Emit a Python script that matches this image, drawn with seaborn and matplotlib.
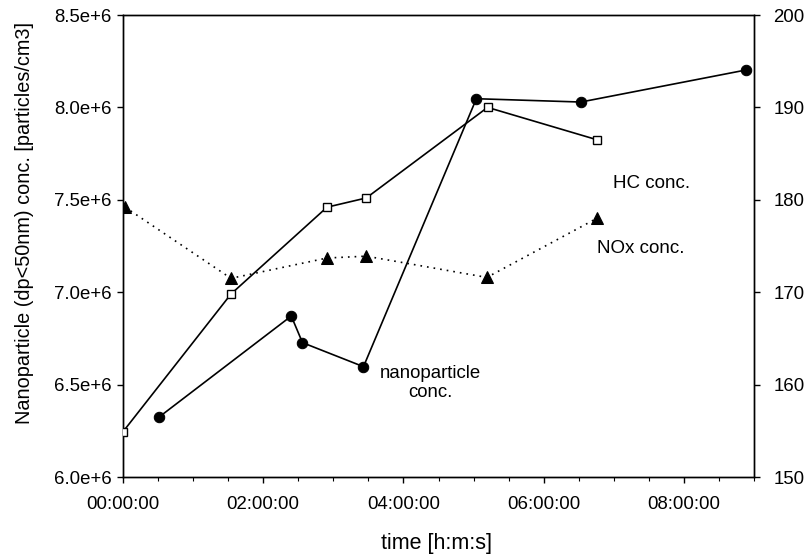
import numpy as np
import pandas as pd
import seaborn as sns
import matplotlib
matplotlib.use("Agg")
import matplotlib.pyplot as plt
from matplotlib.ticker import FuncFormatter, MultipleLocator

# time in hours
nano_time = [0.52, 2.40, 2.56, 3.43, 5.04, 6.53, 8.88]
nano_conc = [6.326e6, 6.871e6, 6.727e6, 6.597e6, 8.047e6, 8.029e6, 8.202e6]

hc_time = [0.0, 1.54, 2.91, 3.47, 5.20, 6.76]
hc_conc = [154.9, 169.8, 179.2, 180.2, 190.0, 186.5]

nox_time = [0.03, 1.54, 2.91, 3.47, 5.19, 6.76]
nox_conc = [179.2, 171.5, 173.7, 173.9, 171.6, 178.0]

left_ticks = [6.0e6, 6.5e6, 7.0e6, 7.5e6, 8.0e6, 8.5e6]
right_ticks = [150, 160, 170, 180, 190, 200]

sns.set_style("ticks")
plt.rcParams['font.family'] = ['Liberation Sans', 'DejaVu Sans']
plt.rcParams['font.size'] = 12
plt.rcParams['text.color'] = 'black'
plt.rcParams['axes.labelcolor'] = 'black'
plt.rcParams['xtick.color'] = 'black'
plt.rcParams['ytick.color'] = 'black'

nano_df = pd.DataFrame({'t': nano_time, 'v': nano_conc})
hc_df = pd.DataFrame({'t': hc_time, 'v': hc_conc})
nox_df = pd.DataFrame({'t': nox_time, 'v': nox_conc})

fig = plt.figure(figsize=(8.06, 5.59), dpi=100)
ax = fig.add_axes([123/806, 1 - 477/559, (754-123)/806, (477-15)/559])
ax2 = ax.twinx()

sns.lineplot(data=nano_df, x='t', y='v', ax=ax, color='black', lw=1.2,
             marker='o', markersize=7.5, markeredgecolor='black', zorder=3)
sns.lineplot(data=hc_df, x='t', y='v', ax=ax2, color='black', lw=1.2,
             marker='s', markersize=6, markerfacecolor='white',
             markeredgecolor='black', markeredgewidth=1.0, zorder=3)
sns.lineplot(data=nox_df, x='t', y='v', ax=ax2, color='black', lw=1.2,
             linestyle=(0, (1, 3)), marker='^', markersize=8.5,
             markeredgecolor='black', zorder=3)

ax.set_xlim(0, 9)
ax.set_ylim(6.0e6, 8.5e6)
ax2.set_ylim(150, 200)
ax.set_yticks(left_ticks)
ax2.set_yticks(right_ticks)
ax.xaxis.set_major_locator(MultipleLocator(2))
ax.xaxis.set_minor_locator(MultipleLocator(0.5))


def hms(x, pos):
    h = int(round(x * 3600))
    return f"{h // 3600:02d}:{(h % 3600) // 60:02d}:{h % 60:02d}"


ax.xaxis.set_major_formatter(FuncFormatter(hms))
ax.yaxis.set_major_formatter(FuncFormatter(lambda v, p: f"{v / 1e6:.1f}e+6"))

ax.tick_params(axis='x', which='major', direction='out', length=4, width=1,
               labelsize=13.4, pad=10)
ax.tick_params(axis='x', which='minor', direction='out', length=3, width=0.8)
ax.tick_params(axis='y', direction='out', length=4, width=1, labelsize=13.4, pad=4)
ax2.tick_params(axis='y', direction='out', length=4, width=1, labelsize=13.4, pad=10)

for a in (ax, ax2):
    for s in a.spines.values():
        s.set_linewidth(1.0)
        s.set_color('black')

ax.set_xlabel('')
ax.set_ylabel('')
ax2.set_ylabel('')
fig.text(437 / 806, 1 - 544 / 559, 'time [h:m:s]', fontsize=15.5, ha='center', va='center')
fig.text(25 / 806, 1 - 223 / 559, 'Nanoparticle (dp<50nm) conc. [particles/cm3]',
         fontsize=14.3, rotation=90, ha='center', va='center')

fig.text(430 / 806, 1 - 383 / 559, 'nanoparticle\nconc.', fontsize=13.4,
         ha='center', va='center', linespacing=1.1)
fig.text(613 / 806, 1 - 183 / 559, 'HC conc.', fontsize=13.5, ha='left', va='center')
fig.text(597 / 806, 1 - 249 / 559, 'NOx conc.', fontsize=13.5, ha='left', va='center')

fig.savefig('out.png', dpi=100)
